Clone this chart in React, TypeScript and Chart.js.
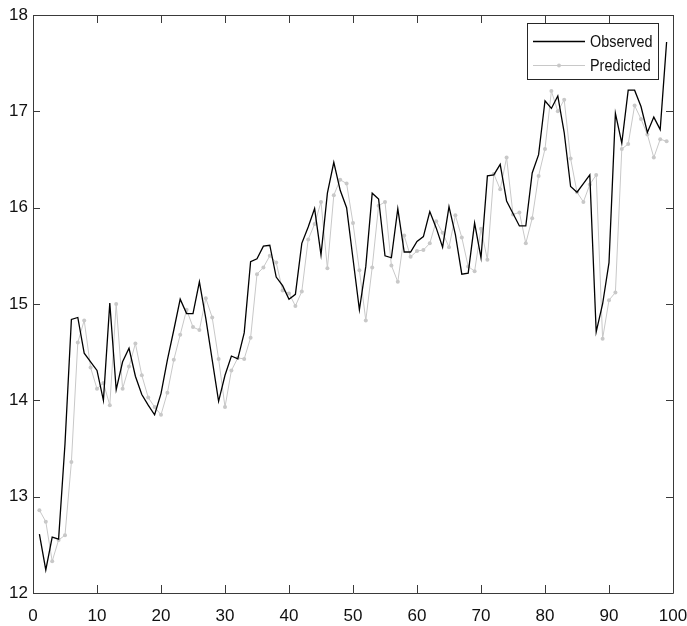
import React, { useEffect, useRef } from 'react';
import { Chart, registerables } from 'chart.js';

Chart.register(...registerables);

const xTicks = [0, 10, 20, 30, 40, 50, 60, 70, 80, 90, 100];
const yTicks = [12, 13, 14, 15, 16, 17, 18];

const observed = [
  12.61, 12.24, 12.58, 12.56, 13.55, 14.84, 14.86, 14.49, 14.40, 14.31,
  14.00, 15.01, 14.11, 14.40, 14.54, 14.25, 14.06, 13.95, 13.85, 14.07,
  14.42, 14.73, 15.05, 14.90, 14.90, 15.23, 14.85, 14.42, 13.99, 14.26,
  14.46, 14.43, 14.70, 15.44, 15.47, 15.60, 15.61, 15.28, 15.19, 15.05,
  15.10, 15.63, 15.80, 15.99, 15.51, 16.15, 16.47, 16.18, 16.00, 15.47,
  14.94, 15.39, 16.15, 16.09, 15.50, 15.48, 15.99, 15.54, 15.54, 15.65,
  15.70, 15.96, 15.79, 15.59, 16.01, 15.72, 15.31, 15.32, 15.84, 15.48,
  16.33, 16.34, 16.45, 16.07, 15.94, 15.81, 15.81, 16.36, 16.55, 17.11,
  17.03, 17.16, 16.78, 16.22, 16.16, 16.25, 16.34, 14.71, 15.00, 15.43,
  16.98, 16.67, 17.22, 17.22, 17.05, 16.78, 16.94, 16.81, 17.72,
];

const predicted = [
  12.86, 12.74, 12.33, 12.55, 12.60, 13.36, 14.60, 14.83, 14.34, 14.12,
  14.18, 13.95, 15.00, 14.12, 14.35, 14.59, 14.26, 14.03, 13.93, 13.85,
  14.08, 14.42, 14.68, 14.94, 14.76, 14.73, 15.06, 14.86, 14.43, 13.93,
  14.31, 14.44, 14.43, 14.65, 15.31, 15.38, 15.50, 15.43, 15.14, 15.11,
  14.98, 15.13, 15.67, 15.83, 16.06, 15.37, 16.13, 16.29, 16.25, 15.84,
  15.35, 14.83, 15.38, 16.02, 16.06, 15.40, 15.23, 15.71, 15.49, 15.55,
  15.56, 15.63, 15.86, 15.74, 15.59, 15.92, 15.69, 15.39, 15.34, 15.78,
  15.46, 16.35, 16.19, 16.52, 15.93, 15.95, 15.63, 15.89, 16.33, 16.61,
  17.21, 17.00, 17.12, 16.51, 16.16, 16.06, 16.24, 16.34, 14.64, 15.04,
  15.12, 16.61, 16.66, 17.06, 16.92, 16.76, 16.52, 16.71, 16.69,
];

const seriesNames = ['Observed', 'Predicted'];
const FONT = "'Liberation Sans', Arial, Helvetica, sans-serif";
const AXIS_COLOR = '#3a3a3a';

const frame = {
  id: 'matlabFrame',
  afterDraw(chart: any) {
    const { ctx, chartArea: a, scales } = chart;
    const xs = scales.x;
    const ys = scales.y;
    ctx.save();
    ctx.strokeStyle = AXIS_COLOR;
    ctx.lineWidth = 1;
    ctx.beginPath();
    ctx.rect(Math.round(a.left) + 0.5, Math.round(a.top) + 0.5, Math.round(a.right - a.left), Math.round(a.bottom - a.top));
    ctx.stroke();
    ctx.beginPath();
    const xt = 8;
    const yt = 7;
    for (const v of xTicks) {
      const px = Math.round(xs.getPixelForValue(v)) + 0.5;
      ctx.moveTo(px, a.bottom);
      ctx.lineTo(px, a.bottom - xt);
      ctx.moveTo(px, a.top);
      ctx.lineTo(px, a.top + xt);
    }
    for (const v of yTicks) {
      const py = Math.round(ys.getPixelForValue(v)) + 0.5;
      ctx.moveTo(a.left, py);
      ctx.lineTo(a.left + yt, py);
      ctx.moveTo(a.right, py);
      ctx.lineTo(a.right - yt, py);
    }
    ctx.stroke();

    // legend box
    const ds = chart.data.datasets;
    const bx = 527.5, by = 23.5, bw = 131, bh = 56;
    ctx.fillStyle = '#ffffff';
    ctx.fillRect(bx, by, bw, bh);
    ctx.strokeStyle = '#262626';
    ctx.strokeRect(bx, by, bw, bh);
    const rows = [41, 65];
    ds.forEach((d: any, i: number) => {
      const y = rows[i] + 0.5;
      ctx.strokeStyle = d.borderColor;
      ctx.lineWidth = d.borderWidth;
      ctx.beginPath();
      ctx.moveTo(533, y);
      ctx.lineTo(585, y);
      ctx.stroke();
      if (d.pointRadius > 0) {
        ctx.fillStyle = d.pointBackgroundColor;
        ctx.beginPath();
        ctx.arc(559, y, d.pointRadius, 0, Math.PI * 2);
        ctx.fill();
      }
      ctx.save();
      ctx.translate(590, y);
      ctx.scale(0.9, 1);
      ctx.fillStyle = '#111111';
      ctx.font = `16px ${FONT}`;
      ctx.textBaseline = 'middle';
      ctx.textAlign = 'left';
      ctx.fillText(seriesNames[i], 0, 1);
      ctx.restore();
    });
    ctx.restore();
  },
};

export default function App() {
  const ref = useRef<HTMLCanvasElement>(null);
  useEffect(() => {
    if (!ref.current) return;
    const obsData = observed.map((v, i) => ({ x: i + 1, y: v }));
    const predData = predicted.map((v, i) => ({ x: i + 1, y: v }));
    const chart = new Chart(ref.current, {
      type: 'line',
      data: {
        datasets: [
          {
            label: seriesNames[0],
            data: obsData,
            borderColor: '#000000',
            borderWidth: 1.3,
            pointRadius: 0,
            pointBackgroundColor: '#000000',
            tension: 0,
            order: 1,
          },
          {
            label: seriesNames[1],
            data: predData,
            borderColor: '#c8c8c8',
            borderWidth: 1,
            pointRadius: 2,
            pointBorderWidth: 0,
            pointBackgroundColor: '#c8c8c8',
            tension: 0,
            order: 2,
          },
        ],
      },
      options: {
        animation: false,
        responsive: false,
        maintainAspectRatio: false,
        layout: { padding: { top: 15, right: 14, left: 0, bottom: 0 } },
        plugins: {
          legend: { display: false },
          tooltip: { enabled: false },
        },
        scales: {
          x: {
            type: 'linear',
            min: 0,
            max: 100,
            afterFit: (s: any) => { s.height = 33; s.paddingLeft = 0; s.paddingRight = 0; },
            afterBuildTicks: (s: any) => { s.ticks = xTicks.map((v) => ({ value: v })); },
            grid: { display: false, drawTicks: false },
            border: { display: false },
            ticks: {
              color: '#111111',
              padding: 13,
              maxRotation: 0,
              autoSkip: false,
              font: { family: FONT, size: 17 },
            },
          },
          y: {
            type: 'linear',
            min: 12,
            max: 18,
            afterFit: (s: any) => { s.width = 33; s.paddingTop = 0; s.paddingBottom = 0; },
            afterBuildTicks: (s: any) => { s.ticks = yTicks.map((v) => ({ value: v })); },
            grid: { display: false, drawTicks: false },
            border: { display: false },
            ticks: {
              color: '#111111',
              padding: 5,
              autoSkip: false,
              font: { family: FONT, size: 17 },
            },
          },
        },
      },
      plugins: [frame],
    });
    return () => chart.destroy();
  }, []);
  return (
    <div style={{ position: 'fixed', left: 0, top: 0, width: 687, height: 626, background: '#fff' }}>
      <canvas ref={ref} width={687} height={626} style={{ display: 'block' }} />
    </div>
  );
}
